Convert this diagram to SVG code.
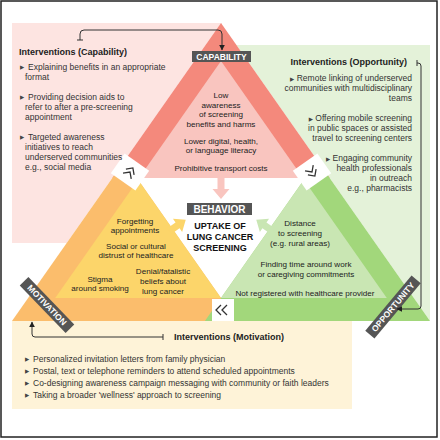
<svg xmlns="http://www.w3.org/2000/svg" width="440" height="440" viewBox="0 0 440 440">
<defs>
<style>
text{font-family:"Liberation Sans",Arial,sans-serif;fill:#222}
.t{font-size:8.1px;text-anchor:middle}
.l{font-size:8.5px;fill:#333}
.r{font-size:8.5px;fill:#333;text-anchor:end}
.h{font-size:9px;font-weight:bold;fill:#222}
.lab{font-size:8.5px;font-weight:bold;fill:#fff;text-anchor:middle}
.b{font-size:9px;font-weight:bold;text-anchor:middle;fill:#111}
.bu{font-family:"DejaVu Sans",sans-serif;font-size:5.5px;fill:#444}
.con{fill:none;stroke:#333;stroke-width:1}
.chev{fill:none;stroke:#333;stroke-width:1.3}
</style>
<marker id="ah" viewBox="0 0 10 10" refX="9" refY="5" markerWidth="6" markerHeight="6" orient="auto" markerUnits="userSpaceOnUse">
<path d="M0,0 L10,5 L0,10 z" fill="#222"/>
</marker>
</defs>
<rect x="0" y="0" width="440" height="440" fill="#fff"/>
<rect x="1" y="1" width="436" height="436" fill="none" stroke="#222" stroke-width="1.5"/>

<g id="backgrounds">
<rect x="12" y="23" width="210" height="220" fill="#fde4e1"/>
<rect x="230" y="45" width="200" height="276" fill="#e4f2d9"/>
<rect x="12" y="321" width="340" height="88" fill="#fef3d8"/>
<polygon points="221,23 12,321 430,321" fill="#fff"/>
</g>

<g id="capability">
<polygon points="221,23 112.3,178 329.7,178" fill="#f4897c"/>
<polygon points="221,61 139,178 303,178" fill="#f9c5bf"/>
<polygon points="217.5,178 224.5,178 224.5,189 229.5,189 221,199 212.5,189 217.5,189" fill="#f9c5bf"/>
<rect x="192" y="51" width="59" height="11" fill="#555"/>
<text class="lab" x="221.5" y="59.6">CAPABILITY</text>
<text class="t" x="221" y="98">Low</text>
<text class="t" x="221" y="107.5">awareness</text>
<text class="t" x="221" y="117">of screening</text>
<text class="t" x="221" y="126.5">benefits and harms</text>
<text class="t" x="221" y="144">Lower digital, health,</text>
<text class="t" x="221" y="153">or language literacy</text>
<text class="t" x="221" y="171">Prohibitive transport costs</text>
</g>

<g id="motivation">
<polygon points="124.6,160.5 12,321 237.1,321" fill="#fbbd6c"/>
<polygon points="138.1,179.8 55.2,298 221,298" fill="#fcd56a"/>
<g transform="translate(171,230) rotate(-35)"><polygon points="-2,-3.5 8,-3.5 8,-8 18,0 8,8 8,3.5 -2,3.5" fill="#fcd56a"/></g>
<g transform="translate(47,305) rotate(46)"><rect x="-33" y="-6" width="66" height="12" fill="#555"/><text class="lab" x="0" y="3">MOTIVATION</text></g>
<text class="t" x="135" y="224">Forgetting</text>
<text class="t" x="135" y="233">appointments</text>
<text class="t" x="136" y="249">Social or cultural</text>
<text class="t" x="136" y="258">distrust of healthcare</text>
<text class="t" x="100" y="282">Stigma</text>
<text class="t" x="100" y="291">around smoking</text>
<text class="t" x="163" y="274">Denial/fatalistic</text>
<text class="t" x="163" y="284">beliefs about</text>
<text class="t" x="163" y="294">lung cancer</text>
</g>

<g id="opportunity">
<polygon points="317.4,160.5 204.9,321 430,321" fill="#a2d77b"/>
<polygon points="303.9,179.8 221,298 386.8,298" fill="#c9e6b3"/>
<g transform="translate(271,230) rotate(-145)"><polygon points="-2,-3.5 8,-3.5 8,-8 18,0 8,8 8,3.5 -2,3.5" fill="#c9e6b3"/></g>
<g transform="translate(393,307) rotate(-50)"><rect x="-36" y="-6" width="72" height="12" fill="#555"/><text class="lab" x="0" y="3">OPPORTUNITY</text></g>
<text class="t" x="300" y="226">Distance</text>
<text class="t" x="300" y="236">to screening</text>
<text class="t" x="300" y="246">(e.g. rural areas)</text>
<text class="t" x="306" y="267">Finding time around work</text>
<text class="t" x="306" y="277">or caregiving commitments</text>
<text class="t" x="305" y="296">Not registered with healthcare provider</text>
</g>

<g id="behavior">
<rect x="187" y="203" width="65" height="12" fill="#555"/>
<text x="219.5" y="212.6" style="font-size:10px;font-weight:bold;fill:#fff;text-anchor:middle">BEHAVIOR</text>
<text class="b" x="220" y="228.5">UPTAKE OF</text>
<text class="b" x="220" y="239.5">LUNG CANCER</text>
<text class="b" x="220" y="250.5">SCREENING</text>
</g>

<g id="chevrons">
<g transform="translate(130,172) rotate(-55)"><rect x="-12" y="-15" width="24" height="30" fill="#fff"/><path class="chev" d="M-5,-5 L0,0 L-5,5 M0,-5 L5,0 L0,5"/></g>
<g transform="translate(312,172) rotate(55)"><rect x="-12" y="-15" width="24" height="30" fill="#fff"/><path class="chev" d="M-5,-5 L0,0 L-5,5 M0,-5 L5,0 L0,5"/></g>
<g transform="translate(222,310)"><rect x="-10" y="-11" width="22" height="22" fill="#fff"/><path class="chev" d="M-1,-5 L-6,0 L-1,5 M5,-5 L0,0 L5,5"/></g>
</g>

<g id="interventions-capability">
<text class="h" x="19" y="54.5">Interventions (Capability)</text>
<text class="bu" x="20" y="69">▶</text><text class="l" x="28" y="70">Explaining benefits in an appropriate</text>
<text class="l" x="25" y="80">format</text>
<text class="bu" x="20" y="99">▶</text><text class="l" x="28" y="100">Providing decision aids to</text>
<text class="l" x="25" y="110">refer to after a pre-screening</text>
<text class="l" x="25" y="120">appointment</text>
<text class="bu" x="20" y="139">▶</text><text class="l" x="28" y="140">Targeted awareness</text>
<text class="l" x="25" y="150">initiatives to reach</text>
<text class="l" x="25" y="160">underserved communities</text>
<text class="l" x="25" y="170">e.g., social media</text>
</g>

<g id="interventions-opportunity">
<text class="h" x="407" y="65" text-anchor="end">Interventions (Opportunity)</text>
<text class="r" x="412" y="81"><tspan class="bu">▶</tspan>  Remote linking of underserved</text>
<text class="r" x="412" y="91">communities with multidisciplinary</text>
<text class="r" x="412" y="101">teams</text>
<text class="r" x="412" y="121"><tspan class="bu">▶</tspan>  Offering mobile screening</text>
<text class="r" x="412" y="131">in public spaces or assisted</text>
<text class="r" x="412" y="141">travel to screening centers</text>
<text class="r" x="412" y="161"><tspan class="bu">▶</tspan>  Engaging community</text>
<text class="r" x="412" y="171">health professionals</text>
<text class="r" x="412" y="181">in outreach</text>
<text class="r" x="412" y="191">e.g., pharmacists</text>
</g>

<g id="interventions-motivation">
<text class="h" x="174" y="340">Interventions (Motivation)</text>
<text class="bu" x="25" y="361">▶</text><text class="l" x="33" y="362">Personalized invitation letters from family physician</text>
<text class="bu" x="25" y="373">▶</text><text class="l" x="33" y="374">Postal, text or telephone reminders to attend scheduled appointments</text>
<text class="bu" x="25" y="385">▶</text><text class="l" x="33" y="386">Co-designing awareness campaign messaging with community or faith leaders</text>
<text class="bu" x="25" y="397">▶</text><text class="l" x="33" y="398">Taking a broader 'wellness' approach to screening</text>
</g>

<g id="connectors">
<path class="con" d="M80,40 V34 Q80,30 84,30 H218 Q222,30 222,34 V50" marker-end="url(#ah)"/>
<path class="con" d="M77,40 H83"/>
<path class="con" d="M417,63 H418 Q421,63 421,66 V306 Q421,309 418,309 H397" marker-end="url(#ah)"/>
<path class="con" d="M417,60 V66"/>
<path class="con" d="M163,337 H35 Q32,337 32,334 V322" marker-end="url(#ah)"/>
<path class="con" d="M163,334 V340"/>
</g>
</svg>
